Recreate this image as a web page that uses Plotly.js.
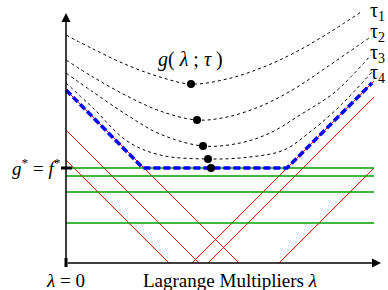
<!DOCTYPE html>
<html>
<head>
<meta charset="utf-8">
<script src="https://cdn.plot.ly/plotly-3.0.1.min.js"></script>
<style>html,body{margin:0;padding:0;background:#fff;}#chart{width:388px;height:290px;}</style>
</head>
<body>
<div id="chart"></div>
<script>
// Smoothed dual functions g(lambda; tau) for four tau values
const tau1X = [0, 27, 61, 94, 125, 161, 195, 228, 261, 295];
const tau1Y = [228, 214, 198, 186, 179, 184, 195, 210, 229, 251];
const tau2X = [0, 27, 61, 94, 131, 161, 195, 228, 261, 303];
const tau2Y = [203, 186, 167, 152, 143, 146, 157, 174, 196, 225];
const tau3X = [0, 27, 61, 94, 137, 174, 204, 234, 269, 305];
const tau3Y = [190, 171, 148, 129, 117, 120, 130, 148, 171, 208];
const tau4X = [0, 27, 61, 94, 142, 184, 218, 244, 274, 306];
const tau4Y = [180, 155, 122, 108, 104, 106, 113, 131, 157, 191];

// minima of the curves (black dots) + limit point on g*
const dotX = [125, 131, 137, 142, 145];
const dotY = [179, 143, 117, 104, 95];

// non-smooth dual function (blue dashed)
const dualX = [0, 77, 221, 306];
const dualY = [173, 95, 95, 180];

// red linear pieces
const redStartX = [0, 0, 0, 126, 142, 213];
const redStartY = [173, 133, 103, 0, 0, 0];
const redEndX = [173, 133, 103, 308, 308, 308];
const redEndY = [0, 0, 0, 182, 166, 95];

// green constant pieces
const greenLevels = [95, 87, 71, 40];
const greenStart = 0;
const greenEnd = 308;

const tauLabels = ['τ<sub>1</sub>', 'τ<sub>2</sub>', 'τ<sub>3</sub>', 'τ<sub>4</sub>'];
const gStar = greenLevels[0];

const traces = [];
for (let i = 0; i < redStartX.length; i++) {
  traces.push({x: [redStartX[i], redEndX[i]], y: [redStartY[i], redEndY[i]], mode: 'lines',
    line: {color: '#ff0000', width: 1}, hoverinfo: 'skip'});
}
greenLevels.forEach(v => traces.push({x: [greenStart, greenEnd], y: [v, v], mode: 'lines',
  line: {color: '#00a000', width: 1.4}, hoverinfo: 'skip'}));
[[tau1X, tau1Y], [tau2X, tau2Y], [tau3X, tau3Y], [tau4X, tau4Y]].forEach(c => traces.push({
  x: c[0], y: c[1], mode: 'lines', line: {color: '#000', width: 1, dash: '3px,3px', shape: 'spline', smoothing: 1},
  hoverinfo: 'skip'}));
traces.push({x: dualX, y: dualY, mode: 'lines', line: {color: '#0000ff', width: 3.5, dash: '7px,3px'}, hoverinfo: 'skip'});
traces.push({x: dotX, y: dotY, mode: 'markers', marker: {color: '#000', size: 8}, hoverinfo: 'skip'});

const tauLabelY = [252, 231, 210, 190];

const fam = 'Liberation Serif, Times New Roman, serif';
const font = {family: fam, size: 19, color: '#000'};
const annotations = [
  {x: 315, y: 0, ax: 0, ay: 0, axref: 'x', ayref: 'y', xref: 'x', yref: 'y', showarrow: true,
    arrowhead: 2, arrowsize: 1.2, arrowwidth: 1.5, arrowcolor: '#000', text: '', standoff: 0},
  {x: 0, y: 250, ax: 0, ay: 0, axref: 'x', ayref: 'y', xref: 'x', yref: 'y', showarrow: true,
    arrowhead: 2, arrowsize: 1.2, arrowwidth: 1.5, arrowcolor: '#000', text: '', standoff: 0},
  {x: 164, y: -17, text: 'Lagrange Multipliers <i>λ</i>', showarrow: false, font: font, xanchor: 'center', yanchor: 'middle'},
  {x: -1, y: -17, text: '<i>λ</i> = 0', showarrow: false, font: font, xanchor: 'center', yanchor: 'middle'},
  {x: -3, y: gStar + 1, text: '<i>g</i><sup>*</sup> = <i>f</i><sup>*</sup>', showarrow: false, font: font, xanchor: 'right', yanchor: 'middle'},
  {x: 124, y: 204, text: '<i>g</i>( <i>λ</i> ; <i>τ</i> )', showarrow: false, font: {family: fam, size: 20, color: '#000'}, xanchor: 'center', yanchor: 'middle'}
];
tauLabels.forEach((t, i) => annotations.push({x: 321, y: tauLabelY[i], text: t, showarrow: false,
  font: {family: fam, size: 20, color: '#000'}, xanchor: 'right', yanchor: 'middle'}));

const shapes = [
  {type: 'line', xref: 'x', yref: 'y', x0: -5, x1: 6, y0: gStar, y1: gStar, line: {color: '#000', width: 3}},
  {type: 'line', xref: 'x', yref: 'y', x0: 0, x1: 0, y0: 5, y1: -4, line: {color: '#000', width: 3}}
];

const layout = {
  width: 388, height: 290,
  margin: {l: 0, r: 0, t: 0, b: 0, pad: 0},
  paper_bgcolor: '#fff', plot_bgcolor: '#fff',
  showlegend: false,
  xaxis: {range: [-66, 322], visible: false, fixedrange: true},
  yaxis: {range: [-27, 263], visible: false, fixedrange: true},
  annotations: annotations,
  shapes: shapes
};

Plotly.newPlot('chart', traces, layout, {staticPlot: true, displayModeBar: false});
</script>
</body>
</html>
